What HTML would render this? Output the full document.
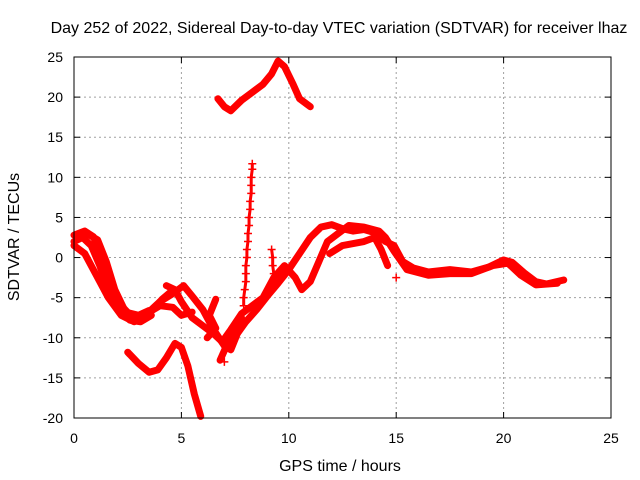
<!DOCTYPE html>
<html><head><meta charset="utf-8"><style>
body{margin:0;background:#fff}
svg{display:block;font-family:"Liberation Sans",sans-serif}
</style></head><body>
<svg id="chart" width="640" height="480" viewBox="0 0 640 480">
<text x="339" y="33" font-size="16" text-anchor="middle">Day 252 of 2022, Sidereal Day-to-day VTEC variation (SDTVAR) for receiver lhaz</text>
<text x="340" y="471" font-size="16" text-anchor="middle">GPS time / hours</text>
<text transform="translate(19,237) rotate(-90)" font-size="16" text-anchor="middle">SDTVAR / TECUs</text>
<g id="grid"></g><g id="series"></g><g id="axes"></g>
</svg>
<script>
const xTicks=[0,5,10,15,20,25];
const yTicks=[-20,-15,-10,-5,0,5,10,15,20,25];
const trackTop=[[6.7,19.8],[7.0,18.8],[7.3,18.3],[7.8,19.6],[8.3,20.6],[8.8,21.6],[9.2,22.9],[9.5,24.5],[9.8,23.8],[10.2,21.6],[10.5,19.8],[11.0,18.8]];
const trackLow=[[2.5,-11.8],[3.0,-13.2],[3.5,-14.3],[3.9,-14.0],[4.3,-12.5],[4.7,-10.7],[5.0,-11.2],[5.3,-13.5],[5.6,-17],[5.9,-19.8]];
const track1=[[0,2.8],[0.5,3.3],[0.9,2.6],[1.3,0.2],[1.7,-3],[2.2,-6],[2.7,-7.4],[3.2,-7.6],[3.7,-6.4],[4.1,-5.2],[4.5,-4.3]];
const track1b=[[0,2],[0.4,2.5],[0.8,1.5],[1.2,-1],[1.6,-4],[2.1,-6.5],[2.6,-7.8],[3.1,-8],[3.6,-7.2]];
const track1c=[[0.1,2.2],[0.6,3],[1.1,2.2],[1.5,-0.5],[1.9,-4],[2.4,-6.8],[3.0,-7.2],[3.5,-6.6]];
const track2=[[0,1.5],[0.5,0.5],[1.0,-2],[1.6,-5],[2.2,-7.2],[2.8,-8],[3.4,-7],[4.0,-5.5],[4.6,-4.5],[5.1,-3.5],[5.5,-4.8],[6.0,-6.5],[6.5,-9],[7.0,-11],[7.3,-11.5],[7.6,-9.5],[8.0,-8],[8.5,-6.5],[9.0,-4.8],[9.5,-3.2],[10,-1.5],[10.5,0.5],[11,2.5],[11.5,3.8],[12,4.1],[12.5,3.6],[13,3.3],[13.5,3.5],[14,3.1],[14.5,2],[14.9,1.5],[15.3,-0.5],[15.8,-1.3],[16.5,-1.8],[17.5,-1.5],[18.5,-1.8],[19.3,-1.2],[20,-0.3],[20.4,-0.6],[21,-2],[21.5,-3],[22,-3.3],[22.8,-2.8]];
const track3=[[4.3,-3.5],[4.7,-4],[5.0,-5.5],[5.5,-7.5],[6.0,-8.5],[6.5,-9.5],[6.9,-10.5],[7.3,-9],[7.8,-7],[8.3,-6],[8.8,-5],[9.3,-2.5],[9.8,-1],[10.3,-2.5],[10.6,-4],[11.0,-3],[11.4,-0.5],[11.8,2],[12.3,3],[12.8,4],[13.5,3.8],[14.2,3.3],[14.5,2.5],[14.9,0.8],[15.5,-1.5],[16.5,-2.2],[17.5,-2],[18.5,-2],[19.5,-1],[20.2,-0.7],[20.8,-2.2],[21.5,-3.4],[22.5,-3.2]];
const track4=[[11.9,0.5],[12.5,1.5],[13.5,2],[14,2.5],[14.3,1],[14.6,-1]];
const track5=[[3.5,-6.8],[4.0,-6.0],[4.6,-6.2],[5.0,-7.2],[5.5,-6.8]];
const track6=[[6.2,-10],[6.6,-8.8],[6.3,-7.2],[6.6,-5.2]];
const track7=[[6.8,-12.8],[7.1,-11],[7.5,-9],[7.8,-7.5]];
const spike1=[[7.9,-6],[7.9,-5],[7.95,-4],[8.0,-3],[8.0,-2],[8.0,-1],[8.05,0],[8.05,1],[8.1,2],[8.1,3],[8.15,4],[8.15,5],[8.2,6],[8.2,7],[8.25,8],[8.25,9],[8.25,10],[8.3,11],[8.3,11.7]];
const spike2=[[9.2,1],[9.25,0],[9.25,-1],[9.3,-2],[9.3,-3]];
const single=[[15.0,-2.5],[7.0,-13]];
const allTracks=[trackTop,trackLow,track1,track1b,track1c,track2,track3,track4,track5,track6,track7];
const names=['track-top','track-low','track-1','track-1b','track-1c','track-2','track-3','track-4','track-5','track-6','track-7'];
const X0=74,X1=611,Y0=418,Y1=57;
const sx=v=>X0+(v-0)/(25-0)*(X1-X0);
const sy=v=>Y0-(v+20)/(45)*(Y0-Y1);
const NS='http://www.w3.org/2000/svg';
function mk(tag,attrs,parent){const e=document.createElementNS(NS,tag);for(const k in attrs)e.setAttribute(k,attrs[k]);parent.appendChild(e);return e;}
const grid=document.getElementById('grid'),axes=document.getElementById('axes'),ser=document.getElementById('series');
xTicks.forEach(t=>{
  if(t>0&&t<25){const g=mk('line',{x1:sx(t),x2:sx(t),y1:Y1,y2:Y0,stroke:'#a0a0a0','stroke-dasharray':'2,3'},grid);
  
  }
  mk('line',{x1:sx(t),x2:sx(t),y1:Y0,y2:Y0-6,stroke:'#000'},axes);
  mk('line',{x1:sx(t),x2:sx(t),y1:Y1,y2:Y1+6,stroke:'#000'},axes);
  const l=mk('text',{x:sx(t),y:Y0+25,'font-size':14,'text-anchor':'middle'},axes);l.textContent=t;
  
  
});
yTicks.forEach(t=>{
  if(t>-20&&t<25){const g=mk('line',{x1:X0,x2:X1,y1:sy(t),y2:sy(t),stroke:'#a0a0a0','stroke-dasharray':'2,3'},grid);
  
  }
  mk('line',{x1:X0,x2:X0+6,y1:sy(t),y2:sy(t),stroke:'#000'},axes);
  mk('line',{x1:X1,x2:X1-6,y1:sy(t),y2:sy(t),stroke:'#000'},axes);
  const l=mk('text',{x:X0-11,y:sy(t)+5,'font-size':14,'text-anchor':'end'},axes);l.textContent=t;
  
  
});
const b=mk('rect',{x:X0,y:Y1,width:X1-X0,height:Y0-Y1,fill:'none',stroke:'#000'},axes);


allTracks.forEach((tr,i)=>{
  const p=mk('polyline',{points:tr.map(d=>sx(d[0])+','+sy(d[1])).join(' '),fill:'none',stroke:'#ff0000','stroke-width':7,'stroke-linejoin':'round','stroke-linecap':'round'},ser);
  
  
});
function plus(d,nm){const x=sx(d[0]),y=sy(d[1]);
  const p=mk('path',{d:`M${x-4},${y}H${x+4}M${x},${y-4}V${y+4}`,stroke:'#ff0000','stroke-width':1.5},ser);
  
  }
[spike1,spike2].forEach((s,k)=>{
  const p=mk('polyline',{points:s.map(d=>sx(d[0])+','+sy(d[1])).join(' '),fill:'none',stroke:'#ff0000','stroke-width':3},ser);
  
  
  s.forEach(d=>plus(d,'spike-point'));
});
single.forEach(d=>plus(d,'single-point'));
</script>
</body></html>
